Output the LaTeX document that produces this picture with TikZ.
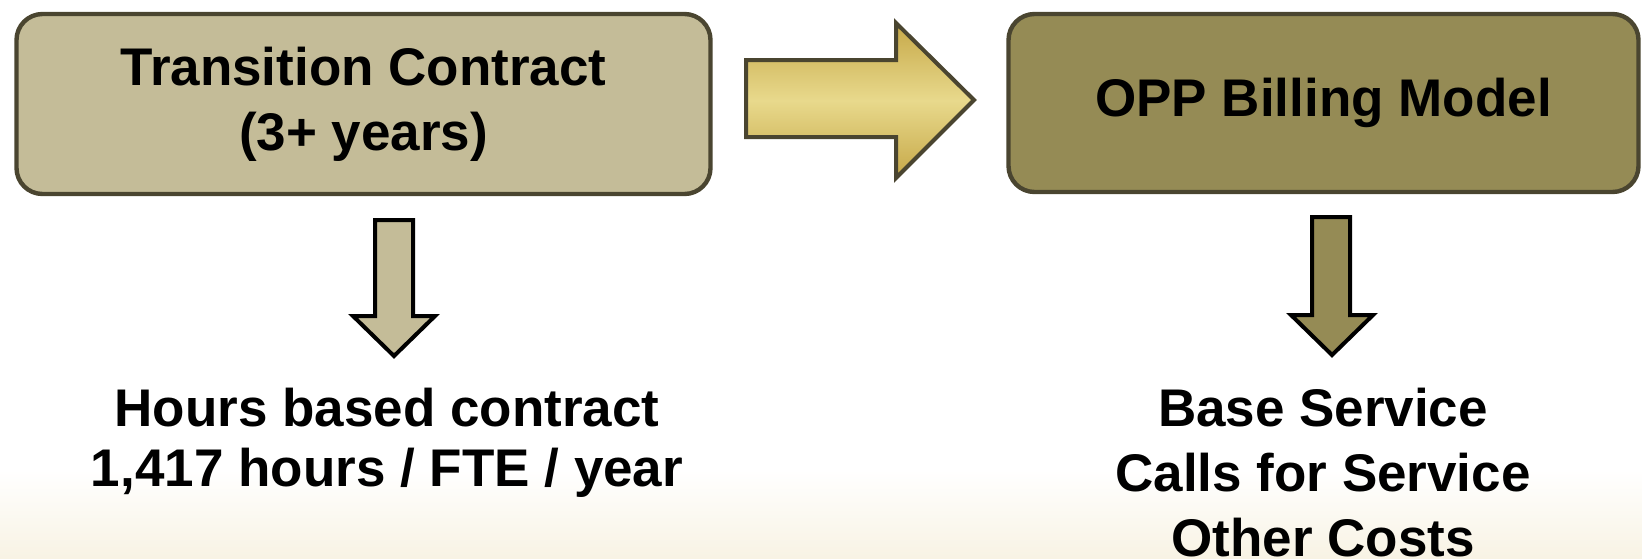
\documentclass[tikz,border=0pt]{standalone}
\usepackage{fontspec}
\setmainfont{Liberation Sans}
\definecolor{boxA}{HTML}{C4BC98}
\definecolor{boxB}{HTML}{958B55}
\definecolor{edge}{HTML}{4A4530}
\definecolor{goldD}{HTML}{C6A848}
\definecolor{goldL}{HTML}{E8D98C}
\definecolor{cream}{HTML}{F8F3E4}
\begin{document}
\begin{tikzpicture}[x=0.5pt,y=-0.5pt,
  box/.style={draw=edge,line width=2.2pt,rounded corners=13pt,inner sep=0pt,
    font=\fontsize{26.5}{32.5}\selectfont\bfseries,align=center},
  lbl/.style={font=\fontsize{26.5}{32.5}\selectfont\bfseries,align=center,inner sep=0pt},
  downarrow/.style={draw=black,line width=2pt,line join=miter}]
\useasboundingbox (0,0) rectangle (1642,558);
\shade[top color=white,bottom color=cream] (0,470) rectangle (1642,558);
% boxes
\node[box,fill=boxA,minimum width=347pt,minimum height=90pt] (tc) at (363.5,104)
  {Transition Contract\\(3+ years)};
\node[box,fill=boxB,minimum width=315pt,minimum height=89pt] (opp) at (1323.5,103)
  {OPP Billing Model};
% right block arrow
\draw[draw=edge,line width=2pt,top color=goldD,bottom color=goldD,middle color=goldL]
  (746,60) -- (896,60) -- (896,23) -- (974,100) -- (896,178) -- (896,137) -- (746,137) -- cycle;
% down arrows
\draw[downarrow,fill=boxA]
  (375,220) -- (413,220) -- (413,316) -- (435,316) -- (394,356) -- (353,316) -- (375,316) -- cycle;
\draw[downarrow,fill=boxB]
  (1312,217) -- (1350,217) -- (1350,315) -- (1373,315) -- (1332,355) -- (1291,315) -- (1312,315) -- cycle;
% labels
\node[lbl] (hb) at (387,408) {Hours based contract};
\node[lbl] (hr) at (387,473) {1,417 hours / FTE / year};
\node[lbl] (bs) at (1323,408) {Base Service};
\node[lbl] (cs) at (1323,473) {Calls for Service};
\node[lbl] (oc) at (1323,538) {Other Costs};
\end{tikzpicture}
\end{document}
